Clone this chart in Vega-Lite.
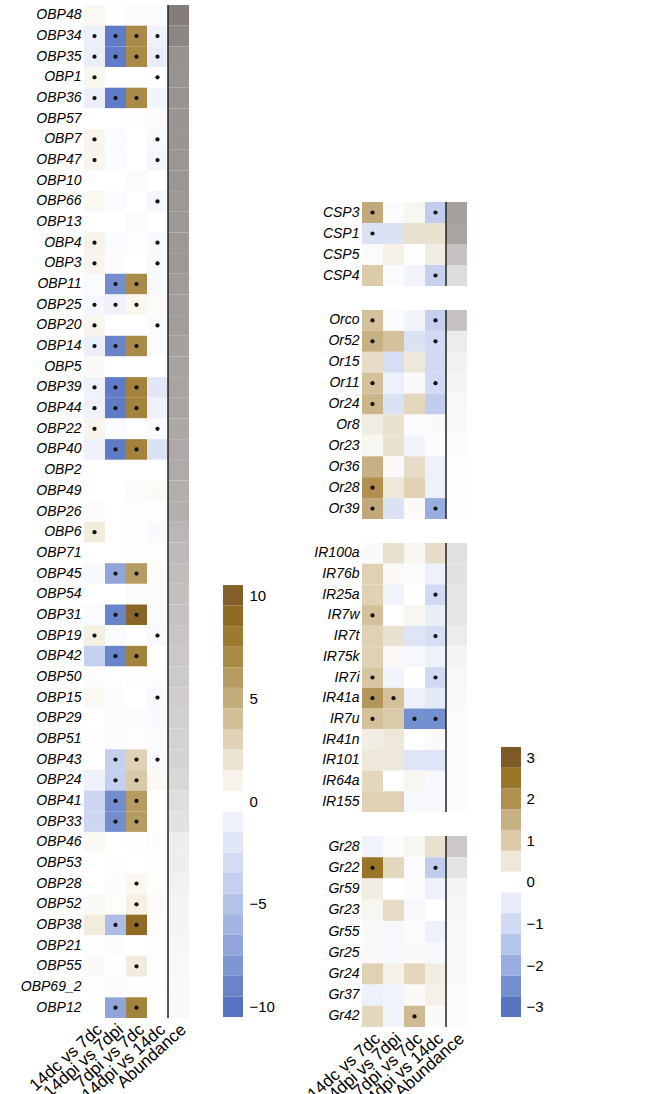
{
"$schema":"https://vega.github.io/schema/vega-lite/v6.json",
"padding":{"left":20,"top":4,"right":0,"bottom":0},
"config":{"view":{"stroke":null},"axis":{"grid":false},"font":"Liberation Sans"},
"resolve":{"scale":{"color":"independent","fill":"independent"}},
"datasets":{
"obp":[
{"g":"OBP48","14dc vs 7dc":0.6,"14dpi vs 7dpi":0.1,"7dpi vs 7dc":0.3,"14dpi vs 14dc":-0.3,"Abundance":0.95},
{"g":"OBP34","14dc vs 7dc":-1.2,"14dpi vs 7dpi":-9.5,"7dpi vs 7dc":7,"14dpi vs 14dc":-1,"Abundance":0.87},
{"g":"OBP35","14dc vs 7dc":-1.3,"14dpi vs 7dpi":-9.5,"7dpi vs 7dc":7,"14dpi vs 14dc":-1.5,"Abundance":0.79},
{"g":"OBP1","14dc vs 7dc":0.7,"14dpi vs 7dpi":0,"7dpi vs 7dc":0,"14dpi vs 14dc":0.1,"Abundance":0.78},
{"g":"OBP36","14dc vs 7dc":-1.3,"14dpi vs 7dpi":-9.5,"7dpi vs 7dc":7,"14dpi vs 14dc":-0.8,"Abundance":0.78},
{"g":"OBP57","14dc vs 7dc":0,"14dpi vs 7dpi":0,"7dpi vs 7dc":0.2,"14dpi vs 14dc":0.3,"Abundance":0.77},
{"g":"OBP7","14dc vs 7dc":0.8,"14dpi vs 7dpi":-0.3,"7dpi vs 7dc":0,"14dpi vs 14dc":-0.5,"Abundance":0.77},
{"g":"OBP47","14dc vs 7dc":0.8,"14dpi vs 7dpi":-0.3,"7dpi vs 7dc":0,"14dpi vs 14dc":-0.7,"Abundance":0.76},
{"g":"OBP10","14dc vs 7dc":0,"14dpi vs 7dpi":0,"7dpi vs 7dc":0.3,"14dpi vs 14dc":0,"Abundance":0.76},
{"g":"OBP66","14dc vs 7dc":0.6,"14dpi vs 7dpi":-0.3,"7dpi vs 7dc":0,"14dpi vs 14dc":-0.6,"Abundance":0.75},
{"g":"OBP13","14dc vs 7dc":0,"14dpi vs 7dpi":0,"7dpi vs 7dc":0.3,"14dpi vs 14dc":0,"Abundance":0.75},
{"g":"OBP4","14dc vs 7dc":1.0,"14dpi vs 7dpi":-0.3,"7dpi vs 7dc":0.2,"14dpi vs 14dc":-0.5,"Abundance":0.74},
{"g":"OBP3","14dc vs 7dc":0.8,"14dpi vs 7dpi":-0.2,"7dpi vs 7dc":0,"14dpi vs 14dc":-0.5,"Abundance":0.74},
{"g":"OBP11","14dc vs 7dc":-0.3,"14dpi vs 7dpi":-8.5,"7dpi vs 7dc":7,"14dpi vs 14dc":-0.5,"Abundance":0.72},
{"g":"OBP25","14dc vs 7dc":-0.6,"14dpi vs 7dpi":-1,"7dpi vs 7dc":0.6,"14dpi vs 14dc":0.3,"Abundance":0.71},
{"g":"OBP20","14dc vs 7dc":0.9,"14dpi vs 7dpi":0,"7dpi vs 7dc":0,"14dpi vs 14dc":-0.3,"Abundance":0.7},
{"g":"OBP14","14dc vs 7dc":-1.3,"14dpi vs 7dpi":-9,"7dpi vs 7dc":7,"14dpi vs 14dc":-0.3,"Abundance":0.68},
{"g":"OBP5","14dc vs 7dc":0.4,"14dpi vs 7dpi":0,"7dpi vs 7dc":0,"14dpi vs 14dc":0,"Abundance":0.67},
{"g":"OBP39","14dc vs 7dc":-1,"14dpi vs 7dpi":-9.5,"7dpi vs 7dc":7.5,"14dpi vs 14dc":-2,"Abundance":0.66},
{"g":"OBP44","14dc vs 7dc":-1,"14dpi vs 7dpi":-9.5,"7dpi vs 7dc":7.5,"14dpi vs 14dc":-1,"Abundance":0.65},
{"g":"OBP22","14dc vs 7dc":0.9,"14dpi vs 7dpi":-0.3,"7dpi vs 7dc":0,"14dpi vs 14dc":-0.4,"Abundance":0.63},
{"g":"OBP40","14dc vs 7dc":-1,"14dpi vs 7dpi":-9.5,"7dpi vs 7dc":7.5,"14dpi vs 14dc":-2.5,"Abundance":0.62},
{"g":"OBP2","14dc vs 7dc":0,"14dpi vs 7dpi":0,"7dpi vs 7dc":0,"14dpi vs 14dc":0,"Abundance":0.61},
{"g":"OBP49","14dc vs 7dc":0,"14dpi vs 7dpi":0,"7dpi vs 7dc":0.3,"14dpi vs 14dc":0.4,"Abundance":0.59},
{"g":"OBP26","14dc vs 7dc":-0.2,"14dpi vs 7dpi":0,"7dpi vs 7dc":0.2,"14dpi vs 14dc":0.2,"Abundance":0.58},
{"g":"OBP6","14dc vs 7dc":1.5,"14dpi vs 7dpi":0,"7dpi vs 7dc":0.2,"14dpi vs 14dc":-0.4,"Abundance":0.52},
{"g":"OBP71","14dc vs 7dc":0,"14dpi vs 7dpi":0,"7dpi vs 7dc":0.2,"14dpi vs 14dc":0.2,"Abundance":0.5},
{"g":"OBP45","14dc vs 7dc":-0.5,"14dpi vs 7dpi":-7,"7dpi vs 7dc":6,"14dpi vs 14dc":0.3,"Abundance":0.48},
{"g":"OBP54","14dc vs 7dc":0,"14dpi vs 7dpi":0,"7dpi vs 7dc":0.3,"14dpi vs 14dc":0.3,"Abundance":0.46},
{"g":"OBP31","14dc vs 7dc":-0.3,"14dpi vs 7dpi":-9,"7dpi vs 7dc":9.5,"14dpi vs 14dc":-0.3,"Abundance":0.44},
{"g":"OBP19","14dc vs 7dc":1.3,"14dpi vs 7dpi":-0.3,"7dpi vs 7dc":0,"14dpi vs 14dc":-0.5,"Abundance":0.42},
{"g":"OBP42","14dc vs 7dc":-4,"14dpi vs 7dpi":-9,"7dpi vs 7dc":7.5,"14dpi vs 14dc":0,"Abundance":0.4},
{"g":"OBP50","14dc vs 7dc":0.2,"14dpi vs 7dpi":0,"7dpi vs 7dc":0.2,"14dpi vs 14dc":0.2,"Abundance":0.38},
{"g":"OBP15","14dc vs 7dc":0.5,"14dpi vs 7dpi":-0.2,"7dpi vs 7dc":0,"14dpi vs 14dc":-0.5,"Abundance":0.36},
{"g":"OBP29","14dc vs 7dc":0,"14dpi vs 7dpi":-0.2,"7dpi vs 7dc":-0.2,"14dpi vs 14dc":-0.4,"Abundance":0.34},
{"g":"OBP51","14dc vs 7dc":0.2,"14dpi vs 7dpi":-0.2,"7dpi vs 7dc":0.2,"14dpi vs 14dc":-0.3,"Abundance":0.32},
{"g":"OBP43","14dc vs 7dc":0,"14dpi vs 7dpi":-4,"7dpi vs 7dc":3,"14dpi vs 14dc":-0.4,"Abundance":0.31},
{"g":"OBP24","14dc vs 7dc":-1,"14dpi vs 7dpi":-4,"7dpi vs 7dc":3.5,"14dpi vs 14dc":0.5,"Abundance":0.29},
{"g":"OBP41","14dc vs 7dc":-3.5,"14dpi vs 7dpi":-8.5,"7dpi vs 7dc":6,"14dpi vs 14dc":0,"Abundance":0.24},
{"g":"OBP33","14dc vs 7dc":-3.5,"14dpi vs 7dpi":-8.5,"7dpi vs 7dc":6,"14dpi vs 14dc":0,"Abundance":0.21},
{"g":"OBP46","14dc vs 7dc":0.5,"14dpi vs 7dpi":0,"7dpi vs 7dc":-0.1,"14dpi vs 14dc":-0.2,"Abundance":0.13},
{"g":"OBP53","14dc vs 7dc":0,"14dpi vs 7dpi":0.1,"7dpi vs 7dc":0,"14dpi vs 14dc":0.1,"Abundance":0.12},
{"g":"OBP28","14dc vs 7dc":0,"14dpi vs 7dpi":-0.2,"7dpi vs 7dc":0.6,"14dpi vs 14dc":0.2,"Abundance":0.1},
{"g":"OBP52","14dc vs 7dc":0.4,"14dpi vs 7dpi":0.2,"7dpi vs 7dc":1.2,"14dpi vs 14dc":0.3,"Abundance":0.08},
{"g":"OBP38","14dc vs 7dc":1.5,"14dpi vs 7dpi":-5.5,"7dpi vs 7dc":9,"14dpi vs 14dc":0.2,"Abundance":0.07},
{"g":"OBP21","14dc vs 7dc":-0.1,"14dpi vs 7dpi":-0.2,"7dpi vs 7dc":0,"14dpi vs 14dc":0.1,"Abundance":0.06},
{"g":"OBP55","14dc vs 7dc":0.4,"14dpi vs 7dpi":0,"7dpi vs 7dc":1.5,"14dpi vs 14dc":0,"Abundance":0.05},
{"g":"OBP69_2","14dc vs 7dc":-0.1,"14dpi vs 7dpi":-0.2,"7dpi vs 7dc":-0.1,"14dpi vs 14dc":-0.1,"Abundance":0.04},
{"g":"OBP12","14dc vs 7dc":0,"14dpi vs 7dpi":-7,"7dpi vs 7dc":7.5,"14dpi vs 14dc":0,"Abundance":0.04}
],
"obpSig":[
{"g":"OBP34","c":["14dc vs 7dc","14dpi vs 7dpi","7dpi vs 7dc","14dpi vs 14dc"]},
{"g":"OBP35","c":["14dc vs 7dc","14dpi vs 7dpi","7dpi vs 7dc","14dpi vs 14dc"]},
{"g":"OBP1","c":["14dc vs 7dc","14dpi vs 14dc"]},
{"g":"OBP36","c":["14dc vs 7dc","14dpi vs 7dpi","7dpi vs 7dc"]},
{"g":"OBP7","c":["14dc vs 7dc","14dpi vs 14dc"]},
{"g":"OBP47","c":["14dc vs 7dc","14dpi vs 14dc"]},
{"g":"OBP66","c":["14dpi vs 14dc"]},
{"g":"OBP4","c":["14dc vs 7dc","14dpi vs 14dc"]},
{"g":"OBP3","c":["14dc vs 7dc","14dpi vs 14dc"]},
{"g":"OBP11","c":["14dpi vs 7dpi","7dpi vs 7dc"]},
{"g":"OBP25","c":["14dc vs 7dc","14dpi vs 7dpi","7dpi vs 7dc"]},
{"g":"OBP20","c":["14dc vs 7dc","14dpi vs 14dc"]},
{"g":"OBP14","c":["14dc vs 7dc","14dpi vs 7dpi","7dpi vs 7dc"]},
{"g":"OBP39","c":["14dc vs 7dc","14dpi vs 7dpi","7dpi vs 7dc"]},
{"g":"OBP44","c":["14dc vs 7dc","14dpi vs 7dpi","7dpi vs 7dc"]},
{"g":"OBP22","c":["14dc vs 7dc","14dpi vs 14dc"]},
{"g":"OBP40","c":["14dpi vs 7dpi","7dpi vs 7dc"]},
{"g":"OBP6","c":["14dc vs 7dc"]},
{"g":"OBP45","c":["14dpi vs 7dpi","7dpi vs 7dc"]},
{"g":"OBP31","c":["14dpi vs 7dpi","7dpi vs 7dc"]},
{"g":"OBP19","c":["14dc vs 7dc","14dpi vs 14dc"]},
{"g":"OBP42","c":["14dpi vs 7dpi","7dpi vs 7dc"]},
{"g":"OBP15","c":["14dpi vs 14dc"]},
{"g":"OBP43","c":["14dpi vs 7dpi","7dpi vs 7dc","14dpi vs 14dc"]},
{"g":"OBP24","c":["14dpi vs 7dpi","7dpi vs 7dc"]},
{"g":"OBP41","c":["14dpi vs 7dpi","7dpi vs 7dc"]},
{"g":"OBP33","c":["14dpi vs 7dpi","7dpi vs 7dc"]},
{"g":"OBP28","c":["7dpi vs 7dc"]},
{"g":"OBP52","c":["7dpi vs 7dc"]},
{"g":"OBP38","c":["14dpi vs 7dpi","7dpi vs 7dc"]},
{"g":"OBP55","c":["7dpi vs 7dc"]},
{"g":"OBP12","c":["14dpi vs 7dpi","7dpi vs 7dc"]}
],
"right":[
{"f":"CSP","g":"CSP3","14dc vs 7dc":1.6,"14dpi vs 7dpi":-0.1,"7dpi vs 7dc":0.2,"14dpi vs 14dc":-1.3,"Abundance":0.68},
{"f":"CSP","g":"CSP1","14dc vs 7dc":-0.8,"14dpi vs 7dpi":-0.8,"7dpi vs 7dc":0.6,"14dpi vs 14dc":0.6,"Abundance":0.66},
{"f":"CSP","g":"CSP5","14dc vs 7dc":-0.1,"14dpi vs 7dpi":0.3,"7dpi vs 7dc":0,"14dpi vs 14dc":0.4,"Abundance":0.45},
{"f":"CSP","g":"CSP4","14dc vs 7dc":1.0,"14dpi vs 7dpi":-0.1,"7dpi vs 7dc":-0.3,"14dpi vs 14dc":-1.2,"Abundance":0.25},
{"f":"Or","g":"Orco","14dc vs 7dc":1.2,"14dpi vs 7dpi":-0.1,"7dpi vs 7dc":-0.3,"14dpi vs 14dc":-1.2,"Abundance":0.45},
{"f":"Or","g":"Or52","14dc vs 7dc":1.5,"14dpi vs 7dpi":1.2,"7dpi vs 7dc":-0.8,"14dpi vs 14dc":-1.0,"Abundance":0.14},
{"f":"Or","g":"Or15","14dc vs 7dc":0.7,"14dpi vs 7dpi":-0.9,"7dpi vs 7dc":0.5,"14dpi vs 14dc":-1.0,"Abundance":0.1},
{"f":"Or","g":"Or11","14dc vs 7dc":1.2,"14dpi vs 7dpi":-0.4,"7dpi vs 7dc":0.1,"14dpi vs 14dc":-1.0,"Abundance":0.07},
{"f":"Or","g":"Or24","14dc vs 7dc":1.4,"14dpi vs 7dpi":-0.8,"7dpi vs 7dc":0.8,"14dpi vs 14dc":-1.3,"Abundance":0.05},
{"f":"Or","g":"Or8","14dc vs 7dc":0.4,"14dpi vs 7dpi":0.6,"7dpi vs 7dc":-0.1,"14dpi vs 14dc":0.1,"Abundance":0.04},
{"f":"Or","g":"Or23","14dc vs 7dc":0.2,"14dpi vs 7dpi":0.6,"7dpi vs 7dc":-0.3,"14dpi vs 14dc":-0.1,"Abundance":0.03},
{"f":"Or","g":"Or36","14dc vs 7dc":1.5,"14dpi vs 7dpi":0.1,"7dpi vs 7dc":0.7,"14dpi vs 14dc":-0.4,"Abundance":0.01},
{"f":"Or","g":"Or28","14dc vs 7dc":2.0,"14dpi vs 7dpi":0.5,"7dpi vs 7dc":0.9,"14dpi vs 14dc":-0.4,"Abundance":0.01},
{"f":"Or","g":"Or39","14dc vs 7dc":1.6,"14dpi vs 7dpi":-0.8,"7dpi vs 7dc":0.1,"14dpi vs 14dc":-2.0,"Abundance":0.01},
{"f":"IR","g":"IR100a","14dc vs 7dc":0.1,"14dpi vs 7dpi":0.6,"7dpi vs 7dc":0.2,"14dpi vs 14dc":0.7,"Abundance":0.22},
{"f":"IR","g":"IR76b","14dc vs 7dc":0.9,"14dpi vs 7dpi":0.1,"7dpi vs 7dc":-0.1,"14dpi vs 14dc":-0.4,"Abundance":0.21},
{"f":"IR","g":"IR25a","14dc vs 7dc":0.9,"14dpi vs 7dpi":-0.3,"7dpi vs 7dc":0,"14dpi vs 14dc":-1.0,"Abundance":0.19},
{"f":"IR","g":"IR7w","14dc vs 7dc":1.2,"14dpi vs 7dpi":0,"7dpi vs 7dc":0.2,"14dpi vs 14dc":-0.5,"Abundance":0.19},
{"f":"IR","g":"IR7t","14dc vs 7dc":0.9,"14dpi vs 7dpi":0.6,"7dpi vs 7dc":-0.7,"14dpi vs 14dc":-0.9,"Abundance":0.14},
{"f":"IR","g":"IR75k","14dc vs 7dc":0.9,"14dpi vs 7dpi":0.1,"7dpi vs 7dc":-0.2,"14dpi vs 14dc":-0.4,"Abundance":0.07},
{"f":"IR","g":"IR7i","14dc vs 7dc":1.1,"14dpi vs 7dpi":-0.3,"7dpi vs 7dc":0,"14dpi vs 14dc":-1.0,"Abundance":0.05},
{"f":"IR","g":"IR41a","14dc vs 7dc":1.9,"14dpi vs 7dpi":1.2,"7dpi vs 7dc":-0.4,"14dpi vs 14dc":-0.6,"Abundance":0.04},
{"f":"IR","g":"IR7u","14dc vs 7dc":1.2,"14dpi vs 7dpi":1.0,"7dpi vs 7dc":-2.5,"14dpi vs 14dc":-2.5,"Abundance":0.03},
{"f":"IR","g":"IR41n","14dc vs 7dc":0.4,"14dpi vs 7dpi":0.5,"7dpi vs 7dc":0,"14dpi vs 14dc":0.1,"Abundance":0.02},
{"f":"IR","g":"IR101","14dc vs 7dc":0.5,"14dpi vs 7dpi":0.5,"7dpi vs 7dc":-0.7,"14dpi vs 14dc":-0.7,"Abundance":0.02},
{"f":"IR","g":"IR64a","14dc vs 7dc":0.8,"14dpi vs 7dpi":0,"7dpi vs 7dc":0.2,"14dpi vs 14dc":-0.2,"Abundance":0.02},
{"f":"IR","g":"IR155","14dc vs 7dc":0.9,"14dpi vs 7dpi":0.9,"7dpi vs 7dc":-0.2,"14dpi vs 14dc":-0.2,"Abundance":0.02},
{"f":"Gr","g":"Gr28","14dc vs 7dc":-0.3,"14dpi vs 7dpi":-0.1,"7dpi vs 7dc":0.2,"14dpi vs 14dc":0.6,"Abundance":0.4},
{"f":"Gr","g":"Gr22","14dc vs 7dc":2.5,"14dpi vs 7dpi":0.8,"7dpi vs 7dc":-0.1,"14dpi vs 14dc":-1.3,"Abundance":0.2},
{"f":"Gr","g":"Gr59","14dc vs 7dc":0.4,"14dpi vs 7dpi":0,"7dpi vs 7dc":-0.1,"14dpi vs 14dc":-0.4,"Abundance":0.07},
{"f":"Gr","g":"Gr23","14dc vs 7dc":0.2,"14dpi vs 7dpi":0.7,"7dpi vs 7dc":-0.2,"14dpi vs 14dc":0,"Abundance":0.06},
{"f":"Gr","g":"Gr55","14dc vs 7dc":0.1,"14dpi vs 7dpi":-0.2,"7dpi vs 7dc":-0.1,"14dpi vs 14dc":-0.4,"Abundance":0.04},
{"f":"Gr","g":"Gr25","14dc vs 7dc":0.1,"14dpi vs 7dpi":-0.2,"7dpi vs 7dc":0.1,"14dpi vs 14dc":-0.2,"Abundance":0.04},
{"f":"Gr","g":"Gr24","14dc vs 7dc":0.9,"14dpi vs 7dpi":0.3,"7dpi vs 7dc":0.8,"14dpi vs 14dc":0.4,"Abundance":0.04},
{"f":"Gr","g":"Gr37","14dc vs 7dc":-0.4,"14dpi vs 7dpi":-0.3,"7dpi vs 7dc":0.1,"14dpi vs 14dc":0.3,"Abundance":0.03},
{"f":"Gr","g":"Gr42","14dc vs 7dc":0.8,"14dpi vs 7dpi":-0.3,"7dpi vs 7dc":1.3,"14dpi vs 14dc":0.1,"Abundance":0.03}
],
"rightSig":[
{"f":"CSP","g":"CSP3","c":["14dc vs 7dc","14dpi vs 14dc"]},
{"f":"CSP","g":"CSP1","c":["14dc vs 7dc"]},
{"f":"CSP","g":"CSP4","c":["14dpi vs 14dc"]},
{"f":"Or","g":"Orco","c":["14dc vs 7dc","14dpi vs 14dc"]},
{"f":"Or","g":"Or52","c":["14dc vs 7dc","14dpi vs 14dc"]},
{"f":"Or","g":"Or11","c":["14dc vs 7dc","14dpi vs 14dc"]},
{"f":"Or","g":"Or24","c":["14dc vs 7dc"]},
{"f":"Or","g":"Or28","c":["14dc vs 7dc"]},
{"f":"Or","g":"Or39","c":["14dc vs 7dc","14dpi vs 14dc"]},
{"f":"IR","g":"IR25a","c":["14dpi vs 14dc"]},
{"f":"IR","g":"IR7w","c":["14dc vs 7dc"]},
{"f":"IR","g":"IR7t","c":["14dpi vs 14dc"]},
{"f":"IR","g":"IR7i","c":["14dc vs 7dc","14dpi vs 14dc"]},
{"f":"IR","g":"IR41a","c":["14dc vs 7dc","14dpi vs 7dpi"]},
{"f":"IR","g":"IR7u","c":["14dc vs 7dc","7dpi vs 7dc","14dpi vs 14dc"]},
{"f":"Gr","g":"Gr22","c":["14dc vs 7dc","14dpi vs 14dc"]},
{"f":"Gr","g":"Gr42","c":["7dpi vs 7dc"]}
],
"leg10":[
{"v":-10,"lo":-10.5,"hi":-9.5},{"v":-9,"lo":-9.5,"hi":-8.5},{"v":-8,"lo":-8.5,"hi":-7.5},{"v":-7,"lo":-7.5,"hi":-6.5},{"v":-6,"lo":-6.5,"hi":-5.5},{"v":-5,"lo":-5.5,"hi":-4.5},{"v":-4,"lo":-4.5,"hi":-3.5},{"v":-3,"lo":-3.5,"hi":-2.5},{"v":-2,"lo":-2.5,"hi":-1.5},{"v":-1,"lo":-1.5,"hi":-0.5},{"v":0,"lo":-0.5,"hi":0.5},{"v":1,"lo":0.5,"hi":1.5},{"v":2,"lo":1.5,"hi":2.5},{"v":3,"lo":2.5,"hi":3.5},{"v":4,"lo":3.5,"hi":4.5},{"v":5,"lo":4.5,"hi":5.5},{"v":6,"lo":5.5,"hi":6.5},{"v":7,"lo":6.5,"hi":7.5},{"v":8,"lo":7.5,"hi":8.5},{"v":9,"lo":8.5,"hi":9.5},{"v":10,"lo":9.5,"hi":10.5}
],
"leg3":[
{"v":-3,"lo":-3.25,"hi":-2.75},{"v":-2.5,"lo":-2.75,"hi":-2.25},{"v":-2,"lo":-2.25,"hi":-1.75},{"v":-1.5,"lo":-1.75,"hi":-1.25},{"v":-1,"lo":-1.25,"hi":-0.75},{"v":-0.5,"lo":-0.75,"hi":-0.25},{"v":0,"lo":-0.25,"hi":0.25},{"v":0.5,"lo":0.25,"hi":0.75},{"v":1,"lo":0.75,"hi":1.25},{"v":1.5,"lo":1.25,"hi":1.75},{"v":2,"lo":1.75,"hi":2.25},{"v":2.5,"lo":2.25,"hi":2.75},{"v":3,"lo":2.75,"hi":3.25}
]
},
"spacing":28,
"hconcat":[
{"spacing":34,"resolve":{"scale":{"color":"independent","fill":"independent"}},"hconcat":[
 {"width":105,"height":1013,
  "resolve":{"scale":{"color":"independent","fill":"independent"}},
  "layer":[
   {"data":{"name":"obp"},"transform":[{"fold":["14dc vs 7dc","14dpi vs 7dpi","7dpi vs 7dc","14dpi vs 14dc","Abundance"],"as":["c","v"]},{"filter":"datum.c != 'Abundance'"}],
    "mark":{"type":"rect"},
    "encoding":{
     "x":{"field":"c","type":"nominal","scale":{"type":"band","domain":["14dc vs 7dc","14dpi vs 7dpi","7dpi vs 7dc","14dpi vs 14dc","Abundance"],"paddingInner":0,"paddingOuter":0},"axis":{"title":null,"domain":false,"ticks":false,"labelAngle":-42,"labelFontSize":17,"labelColor":"#000","labelPadding":3}},
     "y":{"field":"g","type":"nominal","scale":{"type":"band","domain":["OBP48","OBP34","OBP35","OBP1","OBP36","OBP57","OBP7","OBP47","OBP10","OBP66","OBP13","OBP4","OBP3","OBP11","OBP25","OBP20","OBP14","OBP5","OBP39","OBP44","OBP22","OBP40","OBP2","OBP49","OBP26","OBP6","OBP71","OBP45","OBP54","OBP31","OBP19","OBP42","OBP50","OBP15","OBP29","OBP51","OBP43","OBP24","OBP41","OBP33","OBP46","OBP53","OBP28","OBP52","OBP38","OBP21","OBP55","OBP69_2","OBP12"],"paddingInner":0,"paddingOuter":0},"axis":{"title":null,"domain":false,"ticks":false,"labelPadding":3,"labelFontSize":14,"labelFontStyle":"italic","labelColor":"#000"}},
     "color":{"field":"v","type":"quantitative","legend":null,"scale":{"type":"linear","interpolate":"rgb","zero":false,"nice":false,"clamp":true,"domain":[-10,-9,-8,-7,-6,-5,-4,-3,-2,-1,0,1,2,3,4,5,6,7,8,9,10],"range":["#5673c1","#6a84ca","#7e95d3","#91a5da","#a3b5e2","#b4c3e8","#c4d0ee","#d3dcf2","#e1e7f6","#eff2fa","#ffffff","#f8f3ea","#ece4d3","#dfd2b6","#d1c09a","#c4ad7d","#b69c62","#a98a47","#9c7a2f","#8f6b24","#83602a"]}}
    }},
   {"data":{"name":"obp"},"transform":[{"fold":["14dc vs 7dc","14dpi vs 7dpi","7dpi vs 7dc","14dpi vs 14dc","Abundance"],"as":["c","v"]},{"filter":"datum.c == 'Abundance'"}],
    "mark":{"type":"rect"},
    "encoding":{
     "x":{"field":"c","type":"nominal"},
     "y":{"field":"g","type":"nominal"},
     "fill":{"field":"v","type":"quantitative","legend":null,"scale":{"type":"linear","interpolate":"rgb","zero":false,"nice":false,"domain":[0,1],"range":["#ffffff","#7c7572"]}}
    }},
   {"data":{"name":"obp"},"transform":[{"fold":["Abundance"],"as":["c","v"]},{"filter":"datum.g == 'OBP48'"}],
    "mark":{"type":"rule","color":"#222","strokeWidth":1.5},
    "encoding":{"x":{"field":"c","type":"nominal","bandPosition":0}}},
   {"data":{"name":"obpSig"},"transform":[{"flatten":["c"]}],
    "mark":{"type":"circle","color":"#111","size":18,"opacity":1},
    "encoding":{"x":{"field":"c","type":"nominal"},"y":{"field":"g","type":"nominal"}}}
  ]},
 {"width":20,"height":1012,"data":{"name":"leg10"},"mark":{"type":"rect"},
  "encoding":{
   "y":{"field":"lo","type":"quantitative","scale":{"domain":[-10.5,38.7],"nice":false,"zero":false},"axis":{"orient":"right","values":[-10,-5,0,5,10],"domain":false,"ticks":false,"grid":false,"title":null,"labelPadding":6,"labelFontSize":15,"labelColor":"#000"}},
   "y2":{"field":"hi"},
   "color":{"field":"v","type":"quantitative","legend":null,"scale":{"type":"linear","interpolate":"rgb","zero":false,"nice":false,"clamp":true,"domain":[-10,-9,-8,-7,-6,-5,-4,-3,-2,-1,0,1,2,3,4,5,6,7,8,9,10],"range":["#5673c1","#6a84ca","#7e95d3","#91a5da","#a3b5e2","#b4c3e8","#c4d0ee","#d3dcf2","#e1e7f6","#eff2fa","#ffffff","#f8f3ea","#ece4d3","#dfd2b6","#d1c09a","#c4ad7d","#b69c62","#a98a47","#9c7a2f","#8f6b24","#83602a"]}}
  }}
]},
{"spacing":34,"resolve":{"scale":{"color":"independent","fill":"independent"}},"hconcat":[
 {"spacing":22,"resolve":{"scale":{"color":"independent","fill":"independent"}},"vconcat":[
  {"width":105,"height":174,"data":{"values":[]},"mark":"rect","encoding":{}},
  {"width":105,"height":84,"resolve":{"scale":{"color":"independent","fill":"independent"}},
   "layer":[
    {"data":{"name":"right"},"transform":[{"filter":"datum.f == 'CSP'"},{"fold":["14dc vs 7dc","14dpi vs 7dpi","7dpi vs 7dc","14dpi vs 14dc","Abundance"],"as":["c","v"]},{"filter":"datum.c != 'Abundance'"}],
     "mark":{"type":"rect"},
     "encoding":{
      "x":{"field":"c","type":"nominal","scale":{"type":"band","domain":["14dc vs 7dc","14dpi vs 7dpi","7dpi vs 7dc","14dpi vs 14dc","Abundance"],"paddingInner":0,"paddingOuter":0},"axis":null},
      "y":{"field":"g","type":"nominal","scale":{"type":"band","domain":["CSP3","CSP1","CSP5","CSP4"],"paddingInner":0,"paddingOuter":0},"axis":{"title":null,"domain":false,"ticks":false,"labelPadding":3,"labelFontSize":14,"labelFontStyle":"italic","labelColor":"#000"}},
      "color":{"field":"v","type":"quantitative","legend":null,"scale":{"type":"linear","interpolate":"rgb","zero":false,"nice":false,"clamp":true,"domain":[-3,-2.5,-2,-1.5,-1,-0.5,0,0.5,1,1.5,2,2.5,3],"range":["#5675c0","#7490d1","#98ade0","#b5c4ea","#d1daf2","#e9edf8","#ffffff","#eee8db","#dccbaa","#c7b083","#b08f4f","#987527","#7f5a27"]}}
     }},
    {"data":{"name":"right"},"transform":[{"filter":"datum.f == 'CSP'"},{"fold":["Abundance"],"as":["c","v"]}],
     "mark":{"type":"rect"},
     "encoding":{"x":{"field":"c","type":"nominal"},"y":{"field":"g","type":"nominal"},
      "fill":{"field":"v","type":"quantitative","legend":null,"scale":{"type":"linear","interpolate":"rgb","zero":false,"nice":false,"domain":[0,1],"range":["#ffffff","#7c7572"]}}}},
    {"data":{"name":"right"},"transform":[{"filter":"datum.g == 'CSP3'"},{"fold":["Abundance"],"as":["c","v"]}],
     "mark":{"type":"rule","color":"#222","strokeWidth":1.5},
     "encoding":{"x":{"field":"c","type":"nominal","bandPosition":0}}},
    {"data":{"name":"rightSig"},"transform":[{"filter":"datum.f == 'CSP'"},{"flatten":["c"]}],
     "mark":{"type":"circle","color":"#111","size":18,"opacity":1},
     "encoding":{"x":{"field":"c","type":"nominal"},"y":{"field":"g","type":"nominal"}}}
   ]},
  {"width":105,"height":209,"resolve":{"scale":{"color":"independent","fill":"independent"}},
   "layer":[
    {"data":{"name":"right"},"transform":[{"filter":"datum.f == 'Or'"},{"fold":["14dc vs 7dc","14dpi vs 7dpi","7dpi vs 7dc","14dpi vs 14dc","Abundance"],"as":["c","v"]},{"filter":"datum.c != 'Abundance'"}],
     "mark":{"type":"rect"},
     "encoding":{
      "x":{"field":"c","type":"nominal","scale":{"type":"band","domain":["14dc vs 7dc","14dpi vs 7dpi","7dpi vs 7dc","14dpi vs 14dc","Abundance"],"paddingInner":0,"paddingOuter":0},"axis":null},
      "y":{"field":"g","type":"nominal","scale":{"type":"band","domain":["Orco","Or52","Or15","Or11","Or24","Or8","Or23","Or36","Or28","Or39"],"paddingInner":0,"paddingOuter":0},"axis":{"title":null,"domain":false,"ticks":false,"labelPadding":3,"labelFontSize":14,"labelFontStyle":"italic","labelColor":"#000"}},
      "color":{"field":"v","type":"quantitative","legend":null,"scale":{"type":"linear","interpolate":"rgb","zero":false,"nice":false,"clamp":true,"domain":[-3,-2.5,-2,-1.5,-1,-0.5,0,0.5,1,1.5,2,2.5,3],"range":["#5675c0","#7490d1","#98ade0","#b5c4ea","#d1daf2","#e9edf8","#ffffff","#eee8db","#dccbaa","#c7b083","#b08f4f","#987527","#7f5a27"]}}
     }},
    {"data":{"name":"right"},"transform":[{"filter":"datum.f == 'Or'"},{"fold":["Abundance"],"as":["c","v"]}],
     "mark":{"type":"rect"},
     "encoding":{"x":{"field":"c","type":"nominal"},"y":{"field":"g","type":"nominal"},
      "fill":{"field":"v","type":"quantitative","legend":null,"scale":{"type":"linear","interpolate":"rgb","zero":false,"nice":false,"domain":[0,1],"range":["#ffffff","#7c7572"]}}}},
    {"data":{"name":"right"},"transform":[{"filter":"datum.g == 'Orco'"},{"fold":["Abundance"],"as":["c","v"]}],
     "mark":{"type":"rule","color":"#222","strokeWidth":1.5},
     "encoding":{"x":{"field":"c","type":"nominal","bandPosition":0}}},
    {"data":{"name":"rightSig"},"transform":[{"filter":"datum.f == 'Or'"},{"flatten":["c"]}],
     "mark":{"type":"circle","color":"#111","size":18,"opacity":1},
     "encoding":{"x":{"field":"c","type":"nominal"},"y":{"field":"g","type":"nominal"}}}
   ]},
  {"width":105,"height":269,"resolve":{"scale":{"color":"independent","fill":"independent"}},
   "layer":[
    {"data":{"name":"right"},"transform":[{"filter":"datum.f == 'IR'"},{"fold":["14dc vs 7dc","14dpi vs 7dpi","7dpi vs 7dc","14dpi vs 14dc","Abundance"],"as":["c","v"]},{"filter":"datum.c != 'Abundance'"}],
     "mark":{"type":"rect"},
     "encoding":{
      "x":{"field":"c","type":"nominal","scale":{"type":"band","domain":["14dc vs 7dc","14dpi vs 7dpi","7dpi vs 7dc","14dpi vs 14dc","Abundance"],"paddingInner":0,"paddingOuter":0},"axis":null},
      "y":{"field":"g","type":"nominal","scale":{"type":"band","domain":["IR100a","IR76b","IR25a","IR7w","IR7t","IR75k","IR7i","IR41a","IR7u","IR41n","IR101","IR64a","IR155"],"paddingInner":0,"paddingOuter":0},"axis":{"title":null,"domain":false,"ticks":false,"labelPadding":3,"labelFontSize":14,"labelFontStyle":"italic","labelColor":"#000"}},
      "color":{"field":"v","type":"quantitative","legend":null,"scale":{"type":"linear","interpolate":"rgb","zero":false,"nice":false,"clamp":true,"domain":[-3,-2.5,-2,-1.5,-1,-0.5,0,0.5,1,1.5,2,2.5,3],"range":["#5675c0","#7490d1","#98ade0","#b5c4ea","#d1daf2","#e9edf8","#ffffff","#eee8db","#dccbaa","#c7b083","#b08f4f","#987527","#7f5a27"]}}
     }},
    {"data":{"name":"right"},"transform":[{"filter":"datum.f == 'IR'"},{"fold":["Abundance"],"as":["c","v"]}],
     "mark":{"type":"rect"},
     "encoding":{"x":{"field":"c","type":"nominal"},"y":{"field":"g","type":"nominal"},
      "fill":{"field":"v","type":"quantitative","legend":null,"scale":{"type":"linear","interpolate":"rgb","zero":false,"nice":false,"domain":[0,1],"range":["#ffffff","#7c7572"]}}}},
    {"data":{"name":"right"},"transform":[{"filter":"datum.g == 'IR100a'"},{"fold":["Abundance"],"as":["c","v"]}],
     "mark":{"type":"rule","color":"#222","strokeWidth":1.5},
     "encoding":{"x":{"field":"c","type":"nominal","bandPosition":0}}},
    {"data":{"name":"rightSig"},"transform":[{"filter":"datum.f == 'IR'"},{"flatten":["c"]}],
     "mark":{"type":"circle","color":"#111","size":18,"opacity":1},
     "encoding":{"x":{"field":"c","type":"nominal"},"y":{"field":"g","type":"nominal"}}}
   ]},
  {"width":105,"height":191,"resolve":{"scale":{"color":"independent","fill":"independent"}},
   "layer":[
    {"data":{"name":"right"},"transform":[{"filter":"datum.f == 'Gr'"},{"fold":["14dc vs 7dc","14dpi vs 7dpi","7dpi vs 7dc","14dpi vs 14dc","Abundance"],"as":["c","v"]},{"filter":"datum.c != 'Abundance'"}],
     "mark":{"type":"rect"},
     "encoding":{
      "x":{"field":"c","type":"nominal","scale":{"type":"band","domain":["14dc vs 7dc","14dpi vs 7dpi","7dpi vs 7dc","14dpi vs 14dc","Abundance"],"paddingInner":0,"paddingOuter":0},"axis":{"title":null,"domain":false,"ticks":false,"labelAngle":-42,"labelFontSize":17,"labelColor":"#000","labelPadding":3}},
      "y":{"field":"g","type":"nominal","scale":{"type":"band","domain":["Gr28","Gr22","Gr59","Gr23","Gr55","Gr25","Gr24","Gr37","Gr42"],"paddingInner":0,"paddingOuter":0},"axis":{"title":null,"domain":false,"ticks":false,"labelPadding":3,"labelFontSize":14,"labelFontStyle":"italic","labelColor":"#000"}},
      "color":{"field":"v","type":"quantitative","legend":null,"scale":{"type":"linear","interpolate":"rgb","zero":false,"nice":false,"clamp":true,"domain":[-3,-2.5,-2,-1.5,-1,-0.5,0,0.5,1,1.5,2,2.5,3],"range":["#5675c0","#7490d1","#98ade0","#b5c4ea","#d1daf2","#e9edf8","#ffffff","#eee8db","#dccbaa","#c7b083","#b08f4f","#987527","#7f5a27"]}}
     }},
    {"data":{"name":"right"},"transform":[{"filter":"datum.f == 'Gr'"},{"fold":["Abundance"],"as":["c","v"]}],
     "mark":{"type":"rect"},
     "encoding":{"x":{"field":"c","type":"nominal"},"y":{"field":"g","type":"nominal"},
      "fill":{"field":"v","type":"quantitative","legend":null,"scale":{"type":"linear","interpolate":"rgb","zero":false,"nice":false,"domain":[0,1],"range":["#ffffff","#7c7572"]}}}},
    {"data":{"name":"right"},"transform":[{"filter":"datum.g == 'Gr28'"},{"fold":["Abundance"],"as":["c","v"]}],
     "mark":{"type":"rule","color":"#222","strokeWidth":1.5},
     "encoding":{"x":{"field":"c","type":"nominal","bandPosition":0}}},
    {"data":{"name":"rightSig"},"transform":[{"filter":"datum.f == 'Gr'"},{"flatten":["c"]}],
     "mark":{"type":"circle","color":"#111","size":18,"opacity":1},
     "encoding":{"x":{"field":"c","type":"nominal"},"y":{"field":"g","type":"nominal"}}}
   ]}
 ]},
 {"width":20,"height":1012,"data":{"name":"leg3"},"mark":{"type":"rect"},
  "encoding":{
   "y":{"field":"lo","type":"quantitative","scale":{"domain":[-3.25,21.11],"nice":false,"zero":false},"axis":{"orient":"right","values":[-3,-2,-1,0,1,2,3],"domain":false,"ticks":false,"grid":false,"title":null,"labelPadding":5,"labelFontSize":15,"labelColor":"#000"}},
   "y2":{"field":"hi"},
   "color":{"field":"v","type":"quantitative","legend":null,"scale":{"type":"linear","interpolate":"rgb","zero":false,"nice":false,"clamp":true,"domain":[-3,-2.5,-2,-1.5,-1,-0.5,0,0.5,1,1.5,2,2.5,3],"range":["#5675c0","#7490d1","#98ade0","#b5c4ea","#d1daf2","#e9edf8","#ffffff","#eee8db","#dccbaa","#c7b083","#b08f4f","#987527","#7f5a27"]}}
  }}
]}
]
}
